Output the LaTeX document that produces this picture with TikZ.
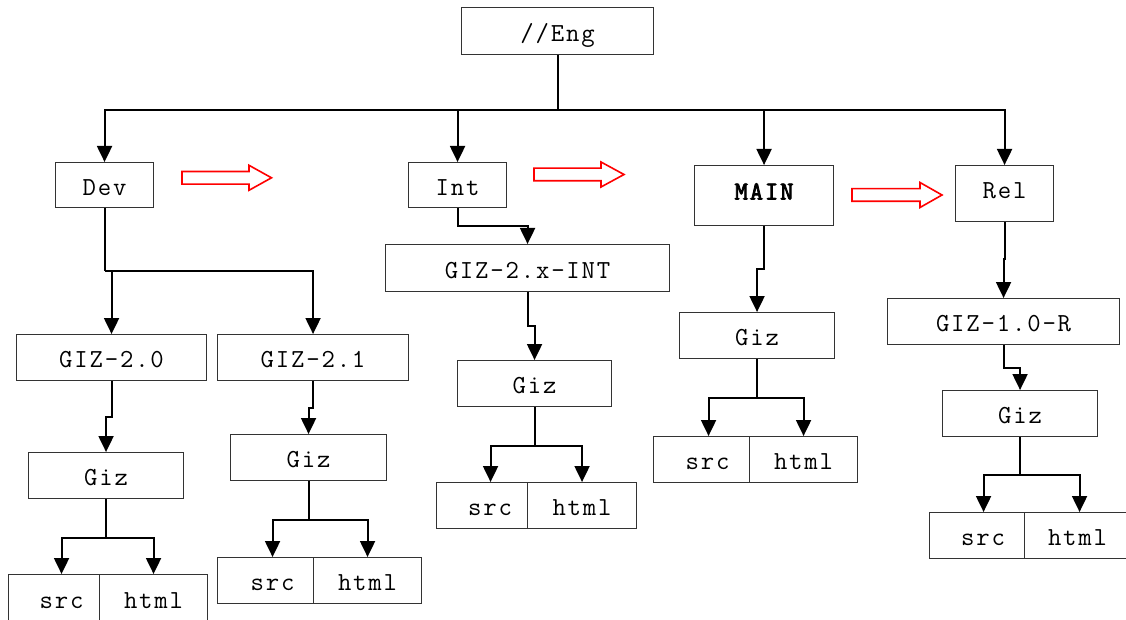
\documentclass[tikz,border=0pt]{standalone}
\usepackage{fontspec}
\newfontfamily\courfont{Latin Modern Mono}[LetterSpace=7, AutoFakeBold=3]
\usetikzlibrary{arrows.meta}
\newcommand\bx[6]{\node[box,minimum width={#4-#2},minimum height={#5-#3}] (#1) at (#2,#3) {#6};}
\newcommand\redarr[4]{\draw[redarrow] (#1,#4-6.3) -- (#2,#4-6.3) -- (#2,#4-12.5) -- (#3,#4) -- (#2,#4+12.5) -- (#2,#4+6.3) -- (#1,#4+6.3) -- cycle;}
\begin{document}
\begin{tikzpicture}[x=1pt,y=-1pt,
  box/.style={draw=black!80, line width=1.1pt, rectangle, inner sep=0pt, anchor=north west,
    text height=24pt, text depth=4pt,
    font=\courfont\fontsize{26}{26}\selectfont},
  conn/.style={draw=black, line width=2pt},
  arr/.style={conn, -{Triangle[width=15pt,length=16pt]}},
  redarrow/.style={draw=red, line width=1.6pt, line join=miter}]
\useasboundingbox (0,0) rectangle (1126,620);
% boxes
\bx{eng}{461}{7}{653}{54}{//Eng}
\bx{dev}{55}{162}{153}{207}{Dev}
\bx{int}{408}{162}{506}{207}{Int}
\bx{main}{694}{165}{833}{225}{\raisebox{6pt}{\bfseries MAIN}}
\bx{rel}{955}{165}{1053}{221}{\raisebox{5pt}{Rel}}
\bx{g20}{16}{334}{206}{380}{GIZ-2.0}
\bx{g21}{217}{334}{408}{380}{GIZ-2.1}
\bx{gzA}{28}{452}{183}{498}{Giz}
\bx{gzB}{230}{434}{386}{480}{Giz}
\bx{sA}{8}{574}{99}{621}{\hspace*{15pt}src}
\bx{hA}{99}{574}{207}{621}{html}
\bx{sB}{217}{557}{313}{603}{\hspace*{14pt}src}
\bx{hB}{313}{557}{421}{603}{html}
\bx{gint}{385}{244}{669}{291}{GIZ-2.x-INT}
\bx{gzC}{457}{360}{611}{406}{Giz}
\bx{sC}{436}{482}{527}{528}{\hspace*{16pt}src}
\bx{hC}{527}{482}{636}{528}{html}
\bx{gzD}{679}{312}{834}{358}{Giz}
\bx{sD}{653}{436}{749}{482}{\hspace*{12pt}src}
\bx{hD}{749}{436}{857}{482}{html}
\bx{grel}{887}{298}{1119}{344}{GIZ-1.0-R}
\bx{gzE}{942}{390}{1097}{436}{Giz}
\bx{sE}{929}{512}{1024}{558}{\hspace*{12pt}src}
\bx{hE}{1024}{512}{1130}{558}{html}
% top bus
\draw[conn] (eng.south) -- ++(0,55) coordinate (bus);
\draw[arr] (bus) -| (dev.north);
\draw[arr] (bus) -| (int.north);
\draw[arr] (bus) -| (main.north);
\draw[arr] (bus) -| (rel.north);
% Dev branch
\draw[conn] (dev.south) -- ++(0,63) coordinate (dj);
\draw[arr] (dj) -| (g20.north);
\draw[arr] (dj) -| (g21.north);
\draw[arr] (g20.south) -- ++(0,36) -| (gzA.north);
\draw[arr] (g21.south) -- ++(0,27) -| (gzB.north);
\draw[conn] (gzA.south) -- ++(0,39) coordinate (jA);
\draw[arr] (jA) -| ([xshift=7.5pt]sA.north);
\draw[arr] (jA) -| (hA.north);
\draw[conn] (gzB.south) -- ++(0,39) coordinate (jB);
\draw[arr] (jB) -| ([xshift=7pt]sB.north);
\draw[arr] (jB) -| (hB.north);
% Int branch
\draw[arr] (int.south) -- ++(0,18) -| (gint.north);
\draw[arr] (gint.south) -- ++(0,34) -| (gzC.north);
\draw[conn] (gzC.south) -- ++(0,39) coordinate (jC);
\draw[arr] (jC) -| ([xshift=8.5pt]sC.north);
\draw[arr] (jC) -| (hC.north);
% MAIN branch
\draw[arr] (main.south) -- ++(0,43) -| (gzD.north);
\draw[conn] (gzD.south) -- ++(0,39) coordinate (jD);
\draw[arr] (jD) -| ([xshift=7pt]sD.north);
\draw[arr] (jD) -| (hD.north);
% Rel branch
\draw[arr] (rel.south) -- ++(0,37) -| (grel.north);
\draw[arr] (grel.south) -- ++(0,23) -| (gzE.north);
\draw[conn] (gzE.south) -- ++(0,38) coordinate (jE);
\draw[arr] (jE) -| ([xshift=6.5pt]sE.north);
\draw[arr] (jE) -| ([xshift=2pt]hE.north);
% red arrows
\redarr{182}{249}{271.5}{177.8}
\redarr{534}{601}{624}{174.5}
\redarr{852}{920}{942}{195}
\end{tikzpicture}
\end{document}
